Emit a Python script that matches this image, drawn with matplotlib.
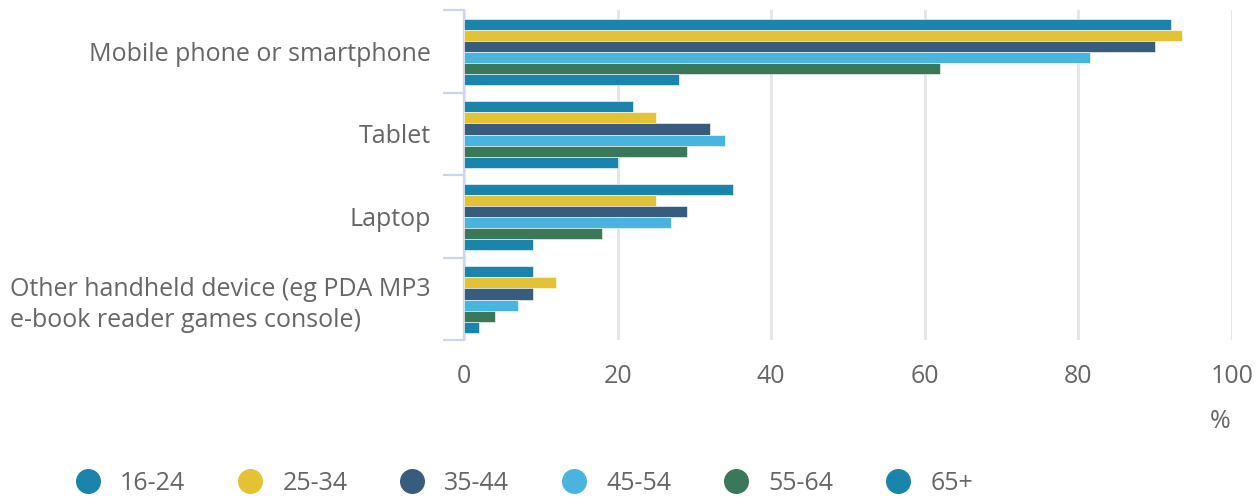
import numpy as np
import matplotlib.pyplot as plt
from matplotlib.lines import Line2D

plt.rcParams['font.family'] = ['Open Sans', 'DejaVu Sans']

devices = ['Mobile phone or smartphone', 'Tablet', 'Laptop',
           'Other handheld device (eg PDA MP3\ne-book reader games console)']
age_groups = ['16-24', '25-34', '35-44', '45-54', '55-64', '65+']
colors = ['#1a84ad', '#e3c236', '#385c7e', '#49b5de', '#3b785a', '#1a84ad']

v_16_24 = [92, 22, 35, 9]
v_25_34 = [93.5, 25, 25, 12]
v_35_44 = [90, 32, 29, 9]
v_45_54 = [81.5, 34, 27, 7]
v_55_64 = [62, 29, 18, 4]
v_65 = [28, 20, 9, 2]
series = [v_16_24, v_25_34, v_35_44, v_45_54, v_55_64, v_65]

fs = 18
grey = '#666666'

fig = plt.figure(figsize=(12.6, 4.97), dpi=100)
ax = fig.add_axes([464 / 1260, 1 - 340 / 497, 768 / 1260, 330 / 497])

n = len(series)
h = 0.135
y = np.arange(len(devices))
for i, vals in enumerate(series):
    ax.barh(y + (i - (n - 1) / 2) * h + 0.01, vals, height=h, color=colors[i],
            edgecolor='white', linewidth=0.4, zorder=3)

ax.set_xlim(0, 100)
ax.set_ylim(len(devices) - 0.5, -0.5)
ax.set_xticks([0, 20, 40, 60, 80, 100])
ax.grid(axis='x', color='#e6e6e6', linewidth=2.2, zorder=0)
ax.tick_params(axis='x', length=0, pad=17, labelsize=fs, labelcolor=grey)

# category boundaries as major ticks, names on minor ticks
ax.set_yticks(np.arange(len(devices) + 1) - 0.5)
ax.set_yticklabels([])
ax.set_yticks(y, minor=True)
ax.set_yticklabels(devices, minor=True, multialignment='left', linespacing=1.35)
ax.tick_params(axis='y', which='major', length=15, width=1.6, color='#ccd6eb')
ax.tick_params(axis='y', which='minor', length=0, pad=24, labelsize=fs,
               labelcolor=grey)

for s in ['top', 'right', 'bottom']:
    ax.spines[s].set_visible(False)
ax.spines['left'].set_color('#ccd6eb')
ax.spines['left'].set_linewidth(1.6)

fig.text(1220 / 1260, 1 - 421 / 497, '%', ha='center', va='center',
         fontsize=fs, color=grey)

handles = [Line2D([], [], marker='o', linestyle='none', markersize=17,
                  markerfacecolor=c, markeredgecolor=c) for c in colors]
fig.legend(handles, age_groups, loc='center left', ncol=6,
           bbox_to_anchor=(75.5 / 1260, 1 - 483 / 497), frameon=False,
           fontsize=fs, labelcolor=grey, handlelength=1.0, handletextpad=0.78,
           columnspacing=2.1, borderaxespad=0, borderpad=0)

fig.savefig('out.png', dpi=100)
